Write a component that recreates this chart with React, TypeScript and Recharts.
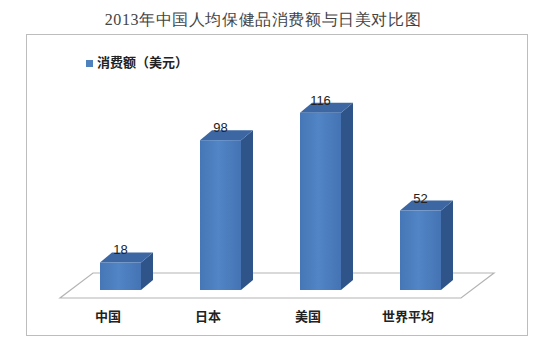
import { BarChart, Bar, XAxis, YAxis, ReferenceLine } from 'recharts'

const categories = ['中国', '日本', '美国', '世界平均']
const spending = [18, 98, 116, 52]
const seriesName = '消费额（美元）'
const title = '2013年中国人均保健品消费额与日美对比图'

const data = categories.map((name, i) => ({ name, value: spending[i] }))

const DX = 12
const DY = 10

// front face + top + right side of a 3D column
const Box3D = (props: any) => {
  const { x, y, width, height } = props
  if (!height || height <= 0) return null
  const top = `${x},${y} ${x + DX},${y - DY} ${x + width + DX},${y - DY} ${x + width},${y}`
  const side = `${x + width},${y} ${x + width + DX},${y - DY} ${x + width + DX},${y + height - DY} ${x + width},${y + height}`
  return (
    <g>
      <polygon points={side} fill="#2f5489" />
      <polygon points={top} fill="#3c67a3" />
      <rect x={x} y={y} width={width} height={height} fill="url(#frontGrad)" />
    </g>
  )
}

// floor plane drawn from the y=0 reference line
const Floor = (props: any) => {
  const { x1, y1, x2 } = props
  const fy = y1 + 8
  const pts = `${x1 - 10},${fy} ${x2 - 9},${fy} ${x2 + 24},${fy - 25} ${x1 + 23},${fy - 25}`
  return <polygon points={pts} fill="#fff" stroke="#b4b4b4" strokeWidth={1.2} />
}

const CategoryTick = (props: any) => {
  const { x, y, payload } = props
  return (
    <text
      x={x - 12}
      y={y + 31}
      textAnchor="middle"
      fontSize={13}
      fontWeight="bold"
      fill="#222"
      fontFamily="'Noto Sans CJK SC', sans-serif"
    >
      {payload.value}
    </text>
  )
}

export default function App() {
  return (
    <div style={{ position: 'absolute', left: 0, top: 0, width: 550, height: 352, background: '#fff' }}>
      <div
        style={{
          position: 'absolute',
          left: 0,
          top: 10,
          width: 526,
          textAlign: 'center',
          fontFamily: 'serif',
          fontSize: 16,
          letterSpacing: 0.6,
          color: '#444',
          lineHeight: '20px'
        }}
      >
        {title}
      </div>
      <div
        style={{
          position: 'absolute',
          left: 26,
          top: 34,
          width: 502,
          height: 302,
          border: '1.5px solid #bdbdbd',
          boxSizing: 'border-box'
        }}
      />
      <div style={{ position: 'absolute', left: 0, top: 0 }}>
        <BarChart width={550} height={352} data={data} margin={{ top: 76, right: 80, left: 70, bottom: 32 }}>
          <defs>
            <linearGradient id="frontGrad" x1="0" y1="0" x2="1" y2="0">
              <stop offset="0%" stopColor="#4676b5" />
              <stop offset="45%" stopColor="#5185c6" />
              <stop offset="100%" stopColor="#4573b3" />
            </linearGradient>
          </defs>
          <XAxis
            dataKey="name"
            height={30}
            axisLine={false}
            tickLine={false}
            tickSize={0}
            tickMargin={0}
            tick={<CategoryTick />}
            interval={0}
          />
          <YAxis hide domain={[0, 140]} />
          <ReferenceLine y={0} shape={<Floor />} zIndex={-1} />
          <Bar
            dataKey="value"
            name={seriesName}
            barSize={41}
            shape={<Box3D />}
            isAnimationActive={false}
            label={{ position: 'top', offset: 8, fill: '#222', fontSize: 13, fontFamily: "'Liberation Sans', Arial, sans-serif" }}
          />
        </BarChart>
      </div>
      <div
        style={{
          position: 'absolute',
          left: 86,
          top: 53,
          display: 'flex',
          alignItems: 'center',
          fontFamily: "'Noto Sans CJK SC', sans-serif"
        }}
      >
        <span style={{ width: 7, height: 7, background: '#4f81bd', marginRight: 4, marginTop: 3 }} />
        <span style={{ fontSize: 13, fontWeight: 'bold', color: '#222', lineHeight: '18px' }}>{seriesName}</span>
      </div>
    </div>
  )
}
